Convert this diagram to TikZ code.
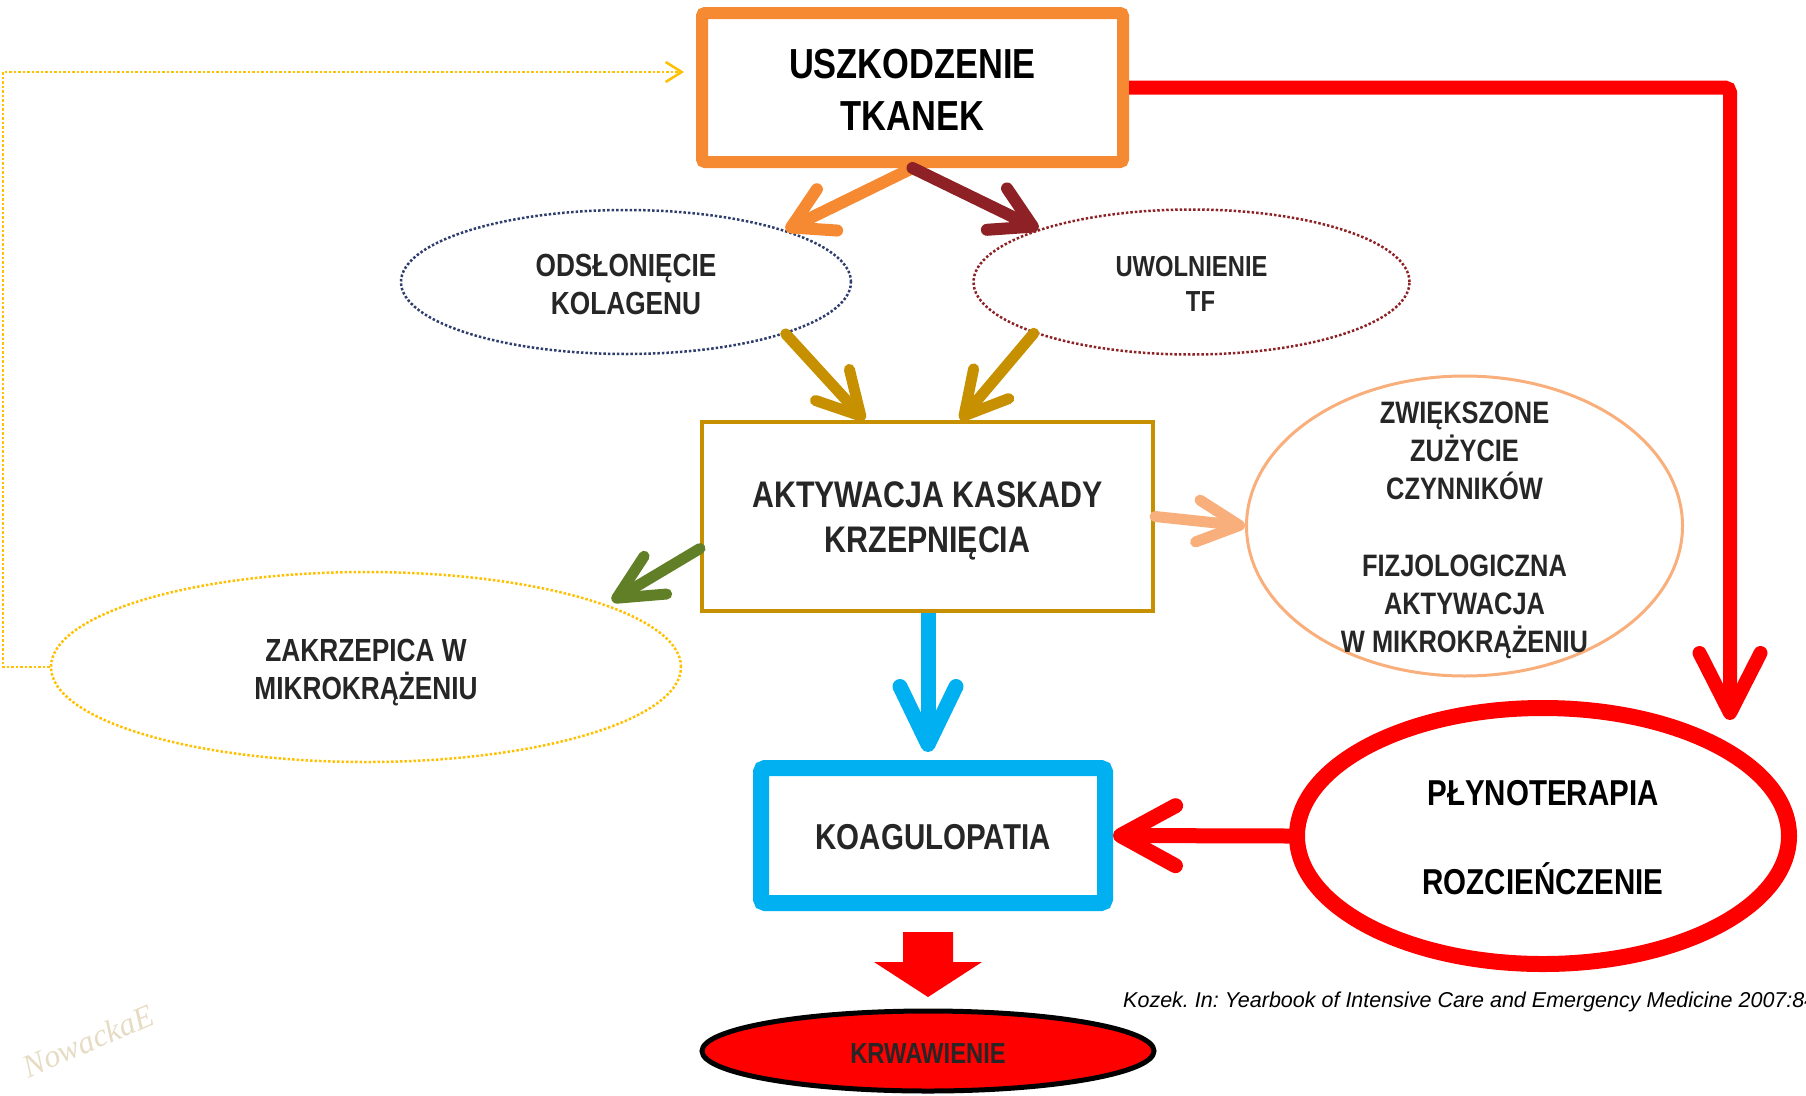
\documentclass[tikz,border=0pt]{standalone}
\usepackage{fontspec}
\setmainfont{Liberation Sans}
\newfontfamily\narrowbf{Liberation Sans}[FakeStretch=0.82]
\newfontfamily\citefont{Liberation Sans}
\newfontfamily\sigfont{Liberation Serif}
\usetikzlibrary{arrows.meta,shapes.geometric,calc}
\definecolor{cOrange}{HTML}{F68A33}
\definecolor{cDkRed}{HTML}{8E2125}
\definecolor{cNavy}{HTML}{2E3D6B}
\definecolor{cGold}{HTML}{C69000}
\definecolor{cGreen}{HTML}{617F26}
\definecolor{cPeach}{HTML}{F9AF7B}
\definecolor{cCyan}{HTML}{00B0F0}
\definecolor{cRed}{HTML}{FF0000}
\definecolor{cYellow}{HTML}{FFC000}
\definecolor{cText}{HTML}{262626}
\definecolor{cBeige}{HTML}{E6DCC3}
\newcommand\fsz[2]{\fontsize{#1}{#2}\selectfont}
\frenchspacing
\begin{document}
\begin{tikzpicture}[x=1pt,y=-1pt,
  boxnode/.style={draw, rectangle, inner sep=0pt},
  ellnode/.style={draw, ellipse, inner sep=0pt},
  lbl/.style={align=center, text=cText, inner sep=0pt},
  conn/.style={line cap=round},
  barb/.style n args={2}{-{Straight Barb[round,length=#1,width=#2]}}
]
\useasboundingbox (0,0) rectangle (1806,1095);

% boxes
\node[boxnode, draw=cOrange, line width=12pt, rounded corners=3pt,
      minimum width=421pt, minimum height=149pt] (usz) at (912.5,87.5) {};
\node[lbl, text=black, font=\narrowbf\bfseries\fsz{42}{52}] (uszt) at (912.5,90) {USZKODZENIE\\TKANEK};
\node[boxnode, draw=cGold, line width=4pt,
      minimum width=451pt, minimum height=189pt] (akt) at (927.5,516.5) {};
\node[lbl, font=\narrowbf\bfseries\fsz{37}{45}] (aktt) at (927.5,521) {AKTYWACJA KASKADY\\KRZEPNIĘCIA};
\node[boxnode, draw=cCyan, line width=16pt, rounded corners=4pt,
      minimum width=344pt, minimum height=135pt] (koag) at (933,835.5) {};
\node[lbl, font=\narrowbf\bfseries\fsz{36}{44}] (koagt) at (933,837.5) {KOAGULOPATIA};

% ellipses
\node[ellnode, draw=cNavy, line width=2.5pt, dash pattern=on 2.5pt off 2pt,
      minimum width=450pt, minimum height=144pt] (ods) at (626,282) {};
\node[lbl, font=\narrowbf\bfseries\fsz{32}{38}] (odst) at (626,284) {ODSŁONIĘCIE\\KOLAGENU};

\node[ellnode, draw=cDkRed, line width=2.5pt, dash pattern=on 2.5pt off 2pt,
      minimum width=436pt, minimum height=145pt] (uwol) at (1191.5,282) {};
\node[lbl, font=\narrowbf\bfseries\fsz{29}{35}] (uwolt) at (1191.5,284) {UWOLNIENIE\\\hspace*{18pt}TF};

\node[ellnode, draw=cYellow, line width=2.5pt, dash pattern=on 2.5pt off 2pt,
      minimum width=630pt, minimum height=190pt] (zak) at (366,667) {};
\node[lbl, font=\narrowbf\bfseries\fsz{32}{38}] (zakt) at (366,672.5) {ZAKRZEPICA W\\MIKROKRĄŻENIU};

\node[ellnode, draw=cPeach, line width=3pt,
      minimum width=436pt, minimum height=300pt] (zwi) at (1464.5,526) {};
\node[lbl, font=\narrowbf\bfseries\fsz{31}{38.2}] (zwit) at (1464.5,530.5) {ZWIĘKSZONE\\ZUŻYCIE\\CZYNNIKÓW\\[38.2pt]FIZJOLOGICZNA\\AKTYWACJA\\W MIKROKRĄŻENIU};

\node[ellnode, draw=cRed, line width=16pt,
      minimum width=492pt, minimum height=256pt] (plyn) at (1543,836) {};
\node[lbl, text=black, font=\narrowbf\bfseries\fsz{36}{89}] (plynt) at (1543,838) {PŁYNOTERAPIA\\ROZCIEŃCZENIE};

\node[ellnode, draw=black, fill=cRed, line width=5pt,
      minimum width=452pt, minimum height=80pt] (krw) at (928,1051) {};
\node[lbl, font=\narrowbf\bfseries\fsz{29}{35}] (krwt) at (928,1053.5) {KRWAWIENIE};

% coordinates
\coordinate (redtip) at (1730,720);
\coordinate (zaktip) at (612,601);
\coordinate (ycorner1) at (3,667);
\coordinate (ycorner2) at (3,72);
\coordinate (yeltip) at (684,72);
\coordinate (bluetip) at (928,752);

% connectors
\draw[conn, cOrange, line width=12pt, barb={40pt}{46pt}] (usz.south) -- (ods.18);
\draw[conn, cDkRed, line width=12pt, barb={40pt}{46pt}] (usz.south) -- (uwol.161);
\draw[conn, cGold, line width=11pt, barb={42pt}{46pt}] (ods.-18) -- ([xshift=-63pt]akt.north);
\draw[conn, cGold, line width=11pt, barb={42pt}{46pt}] (uwol.198) -- ([xshift=33pt]akt.north);
\draw[conn, cGreen, line width=11pt, barb={45pt}{44pt}] ([yshift=-32pt]akt.west) -- (zaktip);
\draw[conn, cPeach, line width=11pt, barb={42pt}{42pt}] (akt.east) -- (zwi.west);
\draw[cCyan, line width=15pt, barb={58pt}{56pt}] (akt.south -| bluetip) -- (bluetip);
\draw[conn, cRed, line width=15pt, barb={55pt}{60pt}] (plyn.west) -- (koag.east);
\draw[cRed, line width=14pt, rounded corners=5pt, barb={60pt}{61pt}] (usz.east) -| (redtip);
\draw[cYellow, line width=2.5pt, dash pattern=on 2.5pt off 2pt, -{Straight Barb[length=16pt,width=20pt]}]
  (zak.west) -- (ycorner1) -- (ycorner2) -- (yeltip);

% fat block arrow
\fill[cRed] (903,932) -- (953,932) -- (953,962) -- (982,962) -- (928,997) -- (874,962) -- (903,962) -- cycle;

% citation
\node[anchor=base west, inner sep=0pt, font=\citefont\itshape\fsz{21.5}{26}, text=black] (cite) at (1123,1007)
  {Kozek. In: Yearbook of Intensive Care and Emergency Medicine 2007:84};

% signature
\node[rotate=23, text=cBeige, font=\sigfont\itshape\fsz{32}{36}, inner sep=0pt] (sig) at (88,1041) {NowackaE};
\end{tikzpicture}
\end{document}
